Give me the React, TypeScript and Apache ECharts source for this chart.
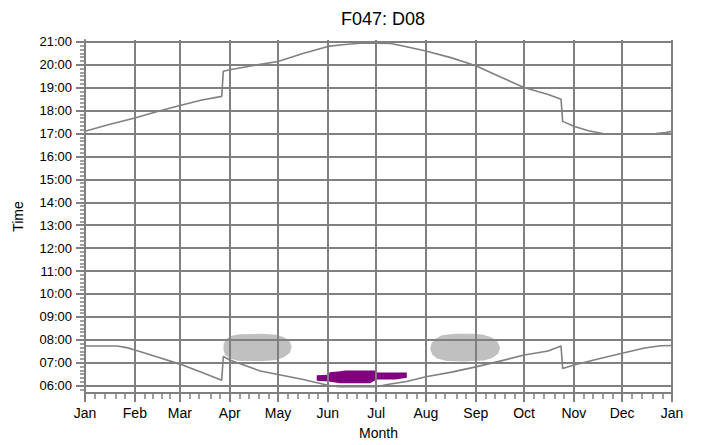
import React, { useEffect, useRef } from 'react';
import * as echarts from 'echarts';

const monthNames = ['Jan', 'Feb', 'Mar', 'Apr', 'May', 'Jun', 'Jul', 'Aug', 'Sep', 'Oct', 'Nov', 'Dec', 'Jan'];
const monthStartDays = [0, 31, 59, 90, 120, 151, 181, 212, 243, 273, 304, 334, 365];
const hourTicks = [6, 7, 8, 9, 10, 11, 12, 13, 14, 15, 16, 17, 18, 19, 20, 21];

// [day of year, time in hours]
const sunsetData = [
  [0, 17.1], [15, 17.39], [31, 17.68], [45, 17.96], [59, 18.22], [72, 18.45], [85, 18.62],
  [86, 19.72], [90, 19.78], [104, 19.96], [120, 20.14], [135, 20.48], [151, 20.8], [160, 20.87],
  [171, 20.94], [181, 20.94], [190, 20.93], [197, 20.83], [212, 20.6], [228, 20.3], [243, 19.96],
  [258, 19.48], [273, 19.01], [288, 18.7], [296, 18.5], [297, 17.53], [304, 17.32], [313, 17.12],
  [322, 17.0], [334, 16.98], [345, 16.97], [355, 17.0], [361, 17.04], [365, 17.1],
];

const sunriseData = [
  [0, 7.73], [20, 7.73], [26, 7.66], [31, 7.56], [45, 7.25], [59, 6.94], [72, 6.6], [85, 6.24],
  [86, 7.27], [90, 7.12], [109, 6.64], [120, 6.49], [135, 6.28], [151, 6.02], [158, 5.95],
  [181, 5.95], [188, 6.05], [200, 6.18], [212, 6.39], [228, 6.59], [243, 6.82], [258, 7.07],
  [273, 7.34], [288, 7.51], [296, 7.73], [297, 6.75], [304, 6.9], [319, 7.16], [334, 7.41],
  [348, 7.64], [358, 7.74], [365, 7.75],
];

const grayBlobA = [
  [86, 7.6], [86.3, 7.85], [88, 8.05], [91, 8.18], [96, 8.24], [110, 8.26], [119, 8.22],
  [124, 8.1], [127.5, 7.9], [128.5, 7.7], [127.5, 7.45], [124, 7.25], [119, 7.12], [110, 7.07],
  [96, 7.08], [90, 7.18], [87, 7.35],
];

const grayBlobB = [
  [214.6, 7.6], [215.5, 7.85], [218, 8.05], [222, 8.2], [230, 8.27], [240, 8.27], [247, 8.23],
  [253, 8.1], [256.5, 7.92], [258.1, 7.65], [257, 7.4], [253, 7.2], [248, 7.1], [236, 7.05],
  [225, 7.08], [219, 7.18], [216, 7.35],
];

const purpleBlob = [
  [144.1, 6.45], [151.7, 6.48], [152, 6.58], [158.6, 6.63], [162, 6.66], [181.4, 6.66],
  [181.5, 6.57], [200.1, 6.57], [200.1, 6.34], [193, 6.27], [181.4, 6.27], [177.2, 6.11],
  [158.6, 6.11], [151.7, 6.18], [144.1, 6.21],
];

const GRAY = '#808080';
const FONT = '"Liberation Sans", Arial, sans-serif';

export default function App() {
  const ref = useRef<HTMLDivElement>(null);

  useEffect(() => {
    document.body.style.margin = '0';
    const chart = echarts.init(ref.current as HTMLDivElement, null, { renderer: 'svg' });

    const minorDays: number[] = [];
    for (let i = 0; i < monthStartDays.length - 1; i++) {
      const s = monthStartDays[i];
      const len = monthStartDays[i + 1] - s;
      for (let k = 1; k < 5; k++) minorDays.push(Math.round(s + (k * len) / 5));
    }
    const minorHours: number[] = [];
    for (let h = 5; h <= 21; h++) {
      for (let m = 1; m < 6; m++) {
        const v = h + m / 6;
        if (v > 5.69 && v < 21.07) minorHours.push(v);
      }
    }

    const polySeries = (name: string, pts: number[][], color: string) => ({
      type: 'custom',
      name,
      z: -1,
      xAxisIndex: 0,
      yAxisIndex: 0,
      data: pts,
      encode: { x: 0, y: 1 },
      renderItem: (params: any, api: any) => {
        if (params.dataIndex !== 0) return { type: 'group', children: [] };
        return {
          type: 'polygon',
          shape: { points: pts.map((p) => api.coord(p)) },
          style: { fill: color, stroke: 'none' },
        };
      },
    });

    const lineSeries = (name: string, data: number[][]) => ({
      type: 'line',
      name,
      data,
      xAxisIndex: 0,
      yAxisIndex: 0,
      showSymbol: false,
      symbol: 'none',
      lineStyle: { color: GRAY, width: 1.6 },
    });

    chart.setOption({
      animation: false,
      backgroundColor: '#fff',
      title: {
        text: 'F047: D08',
        left: 378,
        top: 5,
        textAlign: 'center',
        textStyle: { fontSize: 18, fontWeight: 'normal', color: '#000', fontFamily: FONT },
      },
      grid: { left: 85, right: 29, top: 40, bottom: 48 },
      xAxis: [
        {
          type: 'value',
          min: 0,
          max: 365,
          name: 'Month',
          nameLocation: 'middle',
          nameGap: 33,
          nameTextStyle: { color: '#000', fontSize: 14, fontFamily: FONT },
          axisLine: { show: true, lineStyle: { color: GRAY, width: 2 } },
          axisTick: { show: true, customValues: monthStartDays, length: 9, lineStyle: { color: GRAY, width: 2 } },
          axisLabel: {
            customValues: monthStartDays,
            formatter: (v: number) => monthNames[monthStartDays.indexOf(Math.round(v))] ?? '',
            color: '#000',
            fontSize: 14,
            margin: 13,
            fontFamily: FONT,
          },
          splitLine: { show: true, lineStyle: { color: GRAY, width: 2 } },
        },
        {
          type: 'value',
          min: 0,
          max: 365,
          position: 'bottom',
          axisLine: { show: false },
          axisLabel: { show: false },
          splitLine: { show: false },
          axisTick: { show: true, customValues: minorDays, length: 6, lineStyle: { color: GRAY, width: 1.5 } },
        },
      ],
      yAxis: [
        {
          type: 'value',
          min: 5.68,
          max: 21.08,
          position: 'left',
          name: 'Time',
          nameLocation: 'middle',
          nameGap: 60,
          nameRotate: 90,
          nameTextStyle: { color: '#000', fontSize: 14, fontFamily: FONT },
          axisLine: { show: true, lineStyle: { color: GRAY, width: 2 } },
          axisTick: { show: true, customValues: hourTicks, length: 9, lineStyle: { color: GRAY, width: 2 } },
          axisLabel: {
            customValues: hourTicks,
            formatter: (v: number) => {
              const h = Math.round(v);
              return (h < 10 ? '0' : '') + h + ':00';
            },
            color: '#000',
            fontSize: 13,
            margin: 13,
            fontFamily: FONT,
          },
          splitLine: { show: true, lineStyle: { color: GRAY, width: 2 } },
        },
        {
          type: 'value',
          min: 5.68,
          max: 21.08,
          position: 'left',
          axisLine: { show: false },
          axisLabel: { show: false },
          splitLine: { show: false },
          axisTick: { show: true, customValues: minorHours, length: 5, lineStyle: { color: GRAY, width: 1.5 } },
        },
      ],
      series: [
        polySeries('shade-a', grayBlobA, '#c0c0c0'),
        polySeries('shade-b', grayBlobB, '#c0c0c0'),
        polySeries('shade-p', purpleBlob, '#800080'),
        lineSeries('sunset', sunsetData),
        lineSeries('sunrise', sunriseData),
      ],
    });

    return () => chart.dispose();
  }, []);

  return <div ref={ref} style={{ width: 701, height: 445 }} />;
}
